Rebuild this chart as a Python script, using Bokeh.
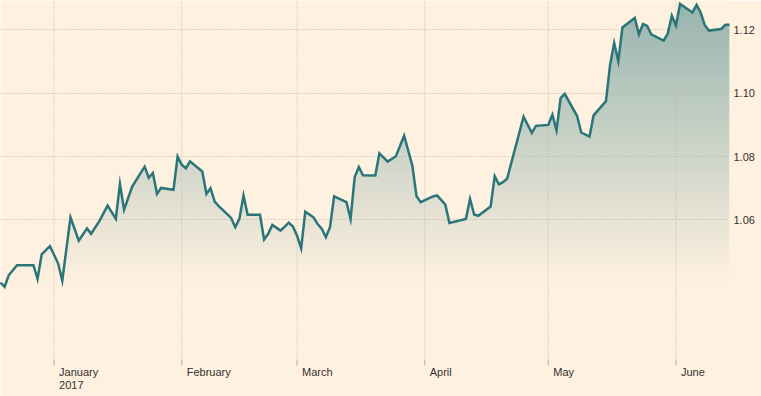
import numpy as np
import pandas as pd
from bokeh.plotting import figure
from bokeh.models import Range1d, FixedTicker, PrintfTickFormatter
from bokeh.core.properties import value
from bokeh.embed import file_html
from bokeh.resources import INLINE

# ---------------- data ----------------
dates = [
    "2016-12-19", "2016-12-20", "2016-12-21", "2016-12-23", "2016-12-27", "2016-12-28",
    "2016-12-29", "2016-12-31", "2017-01-01", "2017-01-02", "2017-01-03", "2017-01-05",
    "2017-01-07", "2017-01-09", "2017-01-10", "2017-01-12", "2017-01-14", "2017-01-16",
    "2017-01-17", "2017-01-18", "2017-01-20", "2017-01-23", "2017-01-24", "2017-01-25",
    "2017-01-26", "2017-01-27", "2017-01-30", "2017-01-31", "2017-02-01", "2017-02-02",
    "2017-02-03", "2017-02-06", "2017-02-07", "2017-02-08", "2017-02-09", "2017-02-10",
    "2017-02-13", "2017-02-14", "2017-02-15", "2017-02-16", "2017-02-17", "2017-02-20",
    "2017-02-21", "2017-02-22", "2017-02-23", "2017-02-25", "2017-02-27", "2017-02-28",
    "2017-03-01", "2017-03-02", "2017-03-03", "2017-03-05", "2017-03-06", "2017-03-07",
    "2017-03-08", "2017-03-09", "2017-03-10", "2017-03-13", "2017-03-14", "2017-03-15",
    "2017-03-16", "2017-03-17", "2017-03-20", "2017-03-21", "2017-03-23", "2017-03-25",
    "2017-03-27", "2017-03-29", "2017-03-30", "2017-03-31", "2017-04-03", "2017-04-04",
    "2017-04-06", "2017-04-07", "2017-04-11", "2017-04-12", "2017-04-13", "2017-04-14",
    "2017-04-17", "2017-04-18", "2017-04-19", "2017-04-20", "2017-04-21", "2017-04-25",
    "2017-04-27", "2017-04-28", "2017-05-01", "2017-05-02", "2017-05-03", "2017-05-04",
    "2017-05-05", "2017-05-08", "2017-05-09", "2017-05-11", "2017-05-12", "2017-05-15",
    "2017-05-16", "2017-05-17", "2017-05-18", "2017-05-19", "2017-05-22", "2017-05-23",
    "2017-05-24", "2017-05-25", "2017-05-26", "2017-05-29", "2017-05-30", "2017-05-31",
    "2017-06-01", "2017-06-02", "2017-06-05", "2017-06-06", "2017-06-07", "2017-06-08",
    "2017-06-09", "2017-06-12", "2017-06-13", "2017-06-14",
]
values = [
    1.0402, 1.0388, 1.0425, 1.0457, 1.0457, 1.0413,
    1.0491, 1.0517, 1.0490, 1.0462, 1.0408, 1.0608,
    1.0534, 1.0573, 1.0556, 1.0596, 1.0645, 1.0603,
    1.0714, 1.0632, 1.0706, 1.0768, 1.0733, 1.0748,
    1.0682, 1.0701, 1.0695, 1.0800, 1.0774, 1.0763,
    1.0785, 1.0753, 1.0682, 1.0700, 1.0658, 1.0643,
    1.0606, 1.0577, 1.0603, 1.0677, 1.0616, 1.0616,
    1.0538, 1.0556, 1.0584, 1.0566, 1.0591, 1.0579,
    1.0550, 1.0510, 1.0626, 1.0608, 1.0587, 1.0572,
    1.0545, 1.0577, 1.0674, 1.0656, 1.0603, 1.0735,
    1.0767, 1.0741, 1.0740, 1.0810, 1.0784, 1.0801,
    1.0866, 1.0771, 1.0675, 1.0656, 1.0674, 1.0677,
    1.0648, 1.0590, 1.0603, 1.0666, 1.0617, 1.0613,
    1.0642, 1.0738, 1.0712, 1.0719, 1.0730, 1.0926,
    1.0875, 1.0897, 1.0900, 1.0932, 1.0883, 1.0985,
    1.0998, 1.0928, 1.0876, 1.0863, 1.0930, 1.0975,
    1.1089, 1.1159, 1.1101, 1.1208, 1.1238, 1.1186,
    1.1219, 1.1213, 1.1186, 1.1166, 1.1188, 1.1245,
    1.1214, 1.1282, 1.1255, 1.1279, 1.1255, 1.1215,
    1.1198, 1.1203, 1.1216, 1.1216,
]
month_starts = ["2017-01-01", "2017-02-01", "2017-03-01", "2017-04-01", "2017-05-01", "2017-06-01"]
month_labels = ["January", "February", "March", "April", "May", "June"]
year_label = "2017"
y_ticks = [1.06, 1.08, 1.10, 1.12]

# ---------------- styles ----------------
BG = "#fff1e0"
LINE = "#29757a"
GRID = "#bdb3a8"
TICK = "#bfb6ab"
TEXT = "#33302e"
FONT = "Liberation Sans"
Y_LOW, Y_MAX = 1.0042, 1.1293      # full visible range (frame spans whole height)
GRID_BOTTOM = 1.0143               # where the month lines stop (time-axis baseline)
PX = (Y_MAX - Y_LOW) / 396.0       # value per pixel
FADE_BOTTOM = 1.040
TOP_ALPHA = 0.49

def to_ms(s):
    t = pd.to_datetime(pd.Series(s))
    return ((t - pd.Timestamp("1970-01-01")) // pd.Timedelta("1ms")).astype(float).to_numpy()

x_ms = to_ms(dates)
vals = np.array(values)
month_ms = to_ms(month_starts)

p = figure(width=761, height=396, x_axis_type="datetime", x_axis_location=None,
           y_axis_location="right",
           x_range=Range1d(x_ms[0], x_ms[-1]), y_range=Range1d(Y_LOW, Y_MAX),
           output_backend="svg", toolbar_location=None,
           min_border_left=0, min_border_top=0, min_border_right=32, min_border_bottom=0,
           background_fill_color=BG, border_fill_color=BG, outline_line_color=None)
p.xgrid.visible = False

# gradient area under the line (opaque bands blended with background)
bg_rgb = np.array([int(BG[i:i + 2], 16) for i in (1, 3, 5)], float)
ln_rgb = np.array([int(LINE[i:i + 2], 16) for i in (1, 3, 5)], float)
xf = np.union1d(x_ms, np.linspace(x_ms[0], x_ms[-1], 1600))
yf = np.interp(xf, x_ms, vals)
N = 90
edges = np.linspace(FADE_BOTTOM, Y_MAX, N + 1)
for i in range(N):
    a, b = edges[i], edges[i + 1]
    ov = (b - a) * 0.6 if i > 0 else 0.0
    t = ((a + b) / 2 - FADE_BOTTOM) / (Y_MAX - FADE_BOTTOM)
    alpha = TOP_ALPHA * t
    rgb = bg_rgb * (1 - alpha) + ln_rgb * alpha
    col = "#%02x%02x%02x" % tuple(int(round(c)) for c in rgb)
    lo = a - ov
    r = p.varea(x=xf, y1=np.full_like(xf, lo), y2=np.clip(yf, lo, b), fill_color=col)
    r.level = "underlay"

# horizontal grid
g = p.ygrid[0]
g.ticker = FixedTicker(ticks=y_ticks)
g.grid_line_color = GRID
g.grid_line_dash = "1 2"
g.grid_line_width = 1
g.level = "glyph"

# vertical month lines, short tick marks and month labels
n = len(month_ms)
vl = p.segment(x0=month_ms, y0=[GRID_BOTTOM] * n, x1=month_ms, y1=[Y_MAX] * n,
               line_color=GRID, line_dash="1 2", line_width=1)
vl.level = "glyph"
tk = p.segment(x0=month_ms, y0=[GRID_BOTTOM - 1 * PX] * n, x1=month_ms, y1=[GRID_BOTTOM + 5 * PX] * n,
               line_color=TICK, line_width=1)
tk.level = "glyph"
p.text(x=month_ms, y=[GRID_BOTTOM] * n, text=month_labels, x_offset=5, y_offset=1,
       text_align="left", text_baseline="top", text_font=value(FONT),
       text_font_size="11px", text_color=TEXT)
p.text(x=[month_ms[0]], y=[GRID_BOTTOM], text=[year_label], x_offset=5, y_offset=16,
       text_align="left", text_baseline="top", text_font=value(FONT),
       text_font_size="11px", text_color=TEXT)

ln = p.line(x_ms, vals, line_color=LINE, line_width=2.5, line_join="miter")
ln.level = "overlay"

# right value axis
ya = p.yaxis[0]
ya.ticker = FixedTicker(ticks=y_ticks)
ya.formatter = PrintfTickFormatter(format="%.2f")
ya.axis_line_color = None
ya.major_tick_line_color = None
ya.minor_tick_line_color = None
ya.major_tick_in = 0
ya.major_tick_out = 0
ya.major_label_standoff = 4
ya.major_label_text_font = FONT
ya.major_label_text_font_size = "11px"
ya.major_label_text_color = TEXT

open("out.html", "w").write(file_html(p, INLINE))
